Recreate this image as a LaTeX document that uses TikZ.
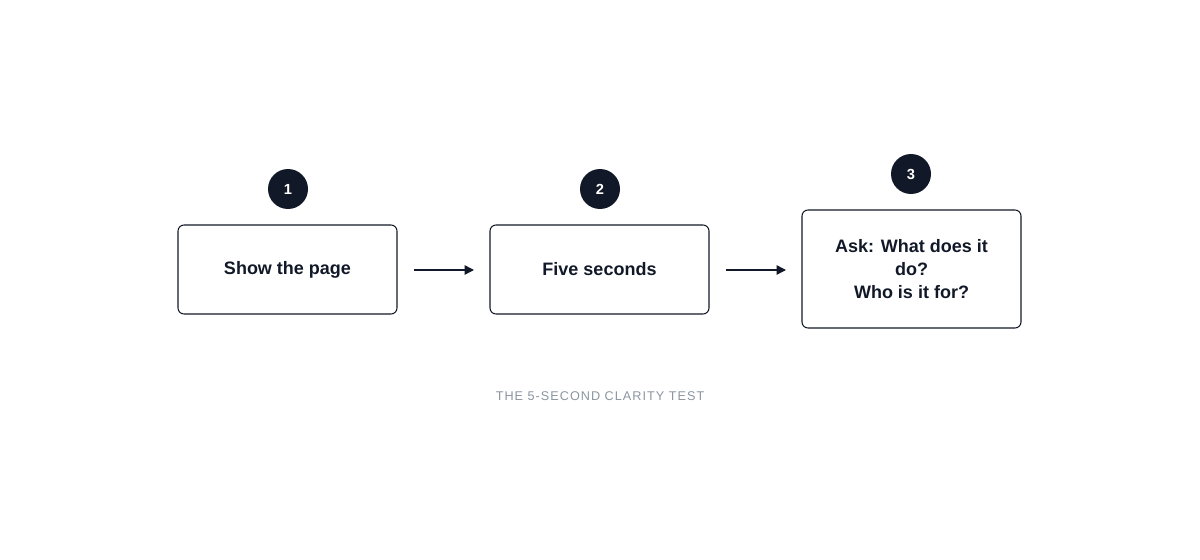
\documentclass[tikz,border=0pt]{standalone}
\usepackage{fontspec}
\setmainfont{Liberation Sans}
\usetikzlibrary{arrows.meta}
\definecolor{ink}{HTML}{111827}
\definecolor{cap}{HTML}{8B95A1}
\begin{document}
\begin{tikzpicture}[x=0.75pt,y=-0.75pt,
 box/.style={draw=ink,line width=0.8pt,rounded corners=4.5pt,minimum width=219*0.75pt,align=center,text=ink,font=\fontsize{13.5}{17}\selectfont\bfseries},
 num/.style={circle,fill=ink,minimum size=30pt,inner sep=0pt,text=white,font=\fontsize{11}{13}\selectfont\bfseries},
 arr/.style={draw=ink,line width=1pt,-{Triangle[length=7pt,width=7pt]}}]
\useasboundingbox (0,0) rectangle (1200,560);
\node[box,minimum height=89*0.75pt] (b1) at (287.5,269.5) {Show the page};
\node[box,minimum height=89*0.75pt] (b2) at (599.5,269.5) {Five seconds};
\node[box,minimum height=118*0.75pt] (b3) at (911.5,269) {Ask: What does it\\do?\\Who is it for?};
\node[num] (n1) at (288,189) {1};
\node[num] (n2) at (600,189) {2};
\node[num] (n3) at (911,174) {3};
\coordinate (a1) at (414,270); \coordinate (a1e) at (474,270);
\coordinate (a2) at (726,270); \coordinate (a2e) at (786,270);
\draw[arr] (a1) -- (a1e);
\draw[arr] (a2) -- (a2e);
\node[text=cap,font=\fontsize{9.5}{11}\selectfont] (t) at (600,396) {\addfontfeature{LetterSpace=8}THE 5-SECOND CLARITY TEST};
\end{tikzpicture}
\end{document}
